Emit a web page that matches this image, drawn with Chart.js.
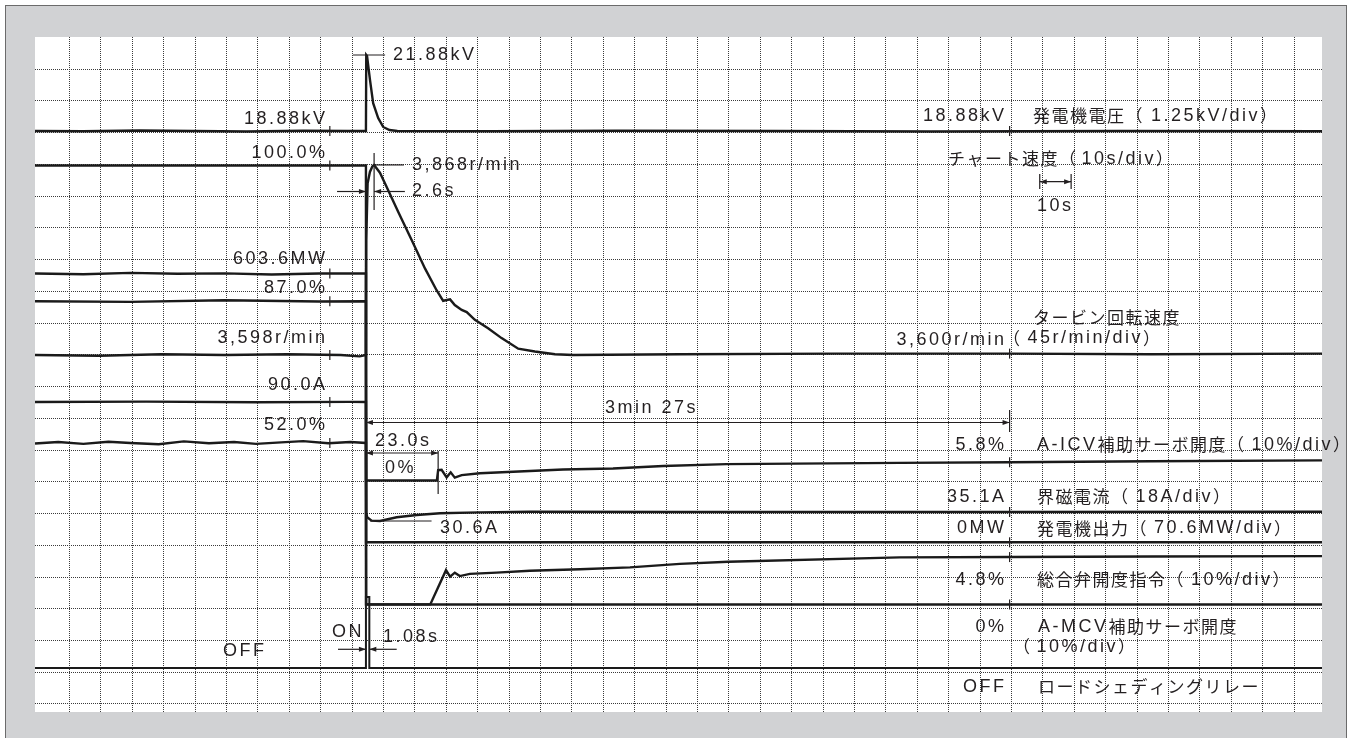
<!DOCTYPE html>
<html>
<head>
<meta charset="utf-8">
<script src="https://cdn.jsdelivr.net/npm/chart.js@4.4.1/dist/chart.umd.min.js"></script>
<style>
  html, body { margin: 0; padding: 0; background: #fff; }
</style>
</head>
<body>
<canvas id="myChart" width="1351" height="738"></canvas>
<script>
// time axis: seconds from the trip, 10 s per division
const tMin = -105.4;
const tMax = 304.5;
const tFirstGrid = -94.4;
// vertical grid divisions (0 = lowest grid line)
const gridMin = -0.252;
const gridMax = 21.008;

// 発電機電圧 (kV)
const voltTime = [-105.4, -90, -72, -55, -38, -20, -6, 0, 0.1, 0.35, 1.3, 2.3, 3.9, 5.5, 7.5, 10, 40, 80, 130, 180, 240, 304.5];
const voltKV = [18.88, 18.87, 18.9, 18.88, 18.86, 18.89, 18.88, 18.88, 21.88, 21.84, 20.89, 19.98, 19.39, 19.04, 18.92, 18.88, 18.87, 18.89, 18.88, 18.86, 18.88, 18.87];

// タービン回転速度 (r/min)
const speedTime = [-105.4, -85, -65, -45, -25, -8, -2, 0, 0.1, 0.54, 1.27, 2.07, 2.6, 4.46, 6.05, 10.3, 14.6, 18.8, 22.5, 24.6, 26.8, 28.3, 30.5, 32.1, 34.7, 38.9, 43.2, 48.5, 53.8, 60.2, 66, 100, 150, 205, 250, 304.5];
const speedRpm = [3598, 3597, 3599, 3598, 3599, 3598, 3596, 3598, 3761, 3842, 3858, 3866, 3868, 3857, 3842, 3801, 3761, 3721, 3690, 3675, 3677, 3669, 3662, 3659, 3648, 3636, 3622, 3607, 3603, 3599, 3598, 3599, 3600, 3600, 3599, 3600];

// A-ICV補助サーボ開度 (%)
const icvTime = [-105.4, -60, -20, 0, 0.05, 22.6, 23.0, 24.1, 25.7, 27.0, 28.3, 30.5, 36.3, 46.9, 62.8, 78.7, 94.7, 114.9, 170, 205, 250, 304.5];
const icvPct = [100, 100, 100, 100, 0, 0, 3.3, 3.4, 1.0, 2.6, 0.9, 1.7, 2.3, 2.8, 3.5, 3.8, 4.6, 5.2, 5.6, 5.8, 6.1, 6.4];

// 界磁電流 (A)
const fieldTime = [-105.4, -70, -35, -5, 0, 0.1, 0.4, 1.8, 4.5, 9.8, 16.2, 23.6, 36.3, 52.2, 100, 205, 304.5];
const fieldAmp = [90.0, 90.2, 89.9, 90.1, 90.0, 34.6, 32.5, 30.8, 30.6, 32.5, 33.6, 34.5, 34.9, 35.2, 35.1, 35.1, 35.2];

// 発電機出力 (MW)
const mwTime = [-105.4, -90, -75, -60, -45, -30, -15, 0, 0.05, 304.5];
const mwOut = [603.6, 602.0, 605.0, 603.0, 604.0, 601.5, 603.6, 603.6, 0, 0];

// 総合弁開度指令 (%)
const gvTime = [-105.4, -75, -45, -15, 0, 0.05, 20.5, 25.5, 26.8, 28.3, 29.9, 33.1, 41.6, 52.2, 68.2, 84.1, 100, 115.4, 170, 205, 250, 304.5];
const gvPct = [87.0, 86.8, 87.3, 86.9, 87.0, -10.4, -10.4, 0.6, -1.5, -0.2, -1.3, -0.6, -0.2, 0.4, 0.9, 1.5, 2.6, 3.3, 4.7, 4.8, 5.0, 5.1];

// A-MCV補助サーボ開度 (%)
const mcvTime = [-105.4, -98, -90, -82, -75, -66, -58, -50, -42, -35, -27, -20, -12, -5, 0, 0.05, 304.5];
const mcvPct = [51.8, 52.3, 51.7, 52.4, 52.0, 51.6, 52.5, 51.9, 52.3, 51.7, 52.2, 52.6, 51.9, 52.3, 52.0, 0, 0];

// ロードシェディングリレー (0 = OFF, 1 = ON)
const relayTime = [-105.4, 0, 1.08, 304.5];
const relayOn = [0, 1, 0, 0];

// marker times
const tLeftRef = -11.5;
const tRightRef = 205;

const channels = [
  { id: "volt", time: voltTime, values: voltKV, ref: 18.88, refDiv: 18.047, perDiv: 1.253, left: 18.88, right: 18.88 },
  { id: "speed", time: speedTime, values: speedRpm, ref: 3598, refDiv: 10.992, perDiv: 45.1, left: 3598, right: 3600 },
  { id: "icv", time: icvTime, values: icvPct, ref: 0, refDiv: 7.039, perDiv: 10.08, left: 100, right: 5.8 },
  { id: "field", time: fieldTime, values: fieldAmp, ref: 35.1, refDiv: 6.047, perDiv: 15.85, left: 90.0, right: 35.1 },
  { id: "mw", time: mwTime, values: mwOut, ref: 0, refDiv: 5.093, perDiv: 71.3, left: 603.6, right: 0 },
  { id: "gv", time: gvTime, values: gvPct, ref: 0, refDiv: 4.157, perDiv: 10.2, left: 87.0, right: 4.8 },
  { id: "mcv", time: mcvTime, values: mcvPct, ref: 0, refDiv: 3.134, perDiv: 10.22, left: 52.0, right: 0 },
  { id: "relay", time: relayTime, values: relayOn, ref: 0, refDiv: 1.134, perDiv: 0.447 },
];

const ink = "#231f20";
const gridColor = "#3a3a3a";

const ticksEvery = (first, step, count) =>
  Array.from({ length: count }, (_, k) => ({ value: first + step * k }));

const scales = {
  x: {
    type: "linear",
    min: tMin,
    max: tMax,
    afterBuildTicks: (s) => { s.ticks = ticksEvery(tFirstGrid, 10, 40); },
    ticks: { display: false },
    grid: { color: gridColor, lineWidth: 1, drawTicks: false },
    border: { display: false, dash: [1, 1] },
  },
  y: {
    type: "linear",
    min: gridMin,
    max: gridMax,
    afterBuildTicks: (s) => { s.ticks = ticksEvery(0, 1, 21); },
    ticks: { display: false },
    grid: { color: gridColor, lineWidth: 1, drawTicks: false },
    border: { display: false, dash: [1, 1] },
  },
};

channels.forEach((c) => {
  scales[c.id] = {
    type: "linear",
    axis: "y",
    display: false,
    min: c.ref + (gridMin - c.refDiv) * c.perDiv,
    max: c.ref + (gridMax - c.refDiv) * c.perDiv,
  };
});

const datasets = channels.map((c) => ({
  label: c.id,
  data: c.time.map((t, i) => ({ x: t, y: c.values[i] })),
  yAxisID: c.id,
  borderColor: "#1a1a1a",
  borderWidth: c.id === "relay" ? 2 : 2.4,
  pointRadius: 0,
  tension: 0,
  stepped: c.id === "relay",
  fill: false,
}));

// text labels: [text, x, y, align, extra gap after "（"]
const notes = [
  ["18.88kV", 327.5, 119, "right"],
  ["100.0%", 327.5, 153, "right"],
  ["603.6MW", 327.5, 259.5, "right"],
  ["87.0%", 327.5, 288, "right"],
  ["3,598r/min", 327.5, 338.5, "right"],
  ["90.0A", 327.5, 385, "right"],
  ["52.0%", 327.5, 425, "right"],
  ["OFF", 223, 651, "left"],
  ["21.88kV", 393, 55, "left"],
  ["3,868r/min", 412, 165, "left"],
  ["2.6s", 412, 191.5, "left"],
  ["3min 27s", 605, 408, "left"],
  ["23.0s", 375, 441, "left"],
  ["0%", 385, 468, "left"],
  ["30.6A", 440, 528, "left"],
  ["ON", 332, 632, "left"],
  ["1.08s", 383, 637.5, "left"],
  ["18.88kV", 1006.5, 116, "right"],
  ["3,600r/min", 1006.5, 340, "right"],
  ["5.8%", 1006.5, 445, "right"],
  ["35.1A", 1006.5, 497, "right"],
  ["0MW", 1006.5, 528.5, "right"],
  ["4.8%", 1006.5, 580, "right"],
  ["0%", 1006.5, 627, "right"],
  ["OFF", 1006.5, 687, "right"],
  ["発電機電圧（1.25kV/div）", 1033, 116, "left", 7],
  ["チャート速度（10s/div）", 948, 159, "left", 4],
  ["10s", 1037, 206, "left"],
  ["タービン回転速度", 1033, 318, "left"],
  ["（45r/min/div）", 1003, 338.5, "left", 6],
  ["A-ICV補助サーボ開度（10%/div）", 1037, 445, "left", 6],
  ["界磁電流（18A/div）", 1037, 497, "left", 6],
  ["発電機出力（70.6MW/div）", 1037, 528.5, "left", 6],
  ["総合弁開度指令（10%/div）", 1037, 580, "left", 6],
  ["A-MCV補助サーボ開度", 1038, 627, "left"],
  ["（10%/div）", 1013, 647, "left", 5],
  ["ロードシェディングリレー", 1038, 687, "left"],
];

const isWide = (ch) => /[\u3000-\u9fff\uff00-\uffef]/.test(ch);

const drawText = (ctx, text, x, y, align, parenGap = 0) => {
  const runs = [];
  for (const ch of text) {
    const wide = isWide(ch);
    if (runs.length && runs[runs.length - 1].wide === wide) runs[runs.length - 1].s += ch;
    else runs.push({ wide, s: ch });
  }
  const setFont = (r) => {
    ctx.font = r.wide ? '17px "Noto Sans CJK JP", sans-serif' : '18px "Liberation Sans", Arial, sans-serif';
    ctx.letterSpacing = r.wide ? "1.5px" : "2.5px";
  };
  const widths = runs.map((r) => {
    setFont(r);
    const extra = r.s.endsWith("（") ? parenGap : 0;
    return ctx.measureText(r.s).width + extra;
  });
  const total = widths.reduce((a, b) => a + b, 0);
  let cx = align === "right" ? x - total : x;
  runs.forEach((r, i) => {
    setFont(r);
    ctx.fillText(r.s, cx, y);
    cx += widths[i];
  });
};

const frame = {
  id: "frame",
  beforeDraw(chart) {
    const ctx = chart.ctx;
    const a = chart.chartArea;
    ctx.save();
    ctx.fillStyle = "#fff";
    ctx.fillRect(0, 0, chart.width, chart.height);
    ctx.fillStyle = "#d1d2d4";
    ctx.fillRect(6, 6, 1340, 740);
    ctx.strokeStyle = "#6b6b6b";
    ctx.lineWidth = 1;
    ctx.strokeRect(5.5, 5.5, 1341, 740);
    ctx.fillStyle = "#fff";
    ctx.fillRect(a.left, a.top, a.right - a.left, a.bottom - a.top);
    ctx.restore();
  },
};

const marks = {
  id: "marks",
  afterDatasetsDraw(chart) {
    const ctx = chart.ctx;
    const X = (t) => chart.scales.x.getPixelForValue(t);
    const Y = (id, v) => chart.scales[id].getPixelForValue(v);
    const line = (x1, y1, x2, y2) => {
      ctx.beginPath();
      ctx.moveTo(x1, y1);
      ctx.lineTo(x2, y2);
      ctx.stroke();
    };
    const head = (x, y, dir) => {
      ctx.beginPath();
      ctx.moveTo(x, y);
      ctx.lineTo(x - dir * 7, y - 2.5);
      ctx.lineTo(x - dir * 7, y + 2.5);
      ctx.closePath();
      ctx.fill();
    };
    const arrow = (x1, x2, y) => {
      line(x1, y, x2, y);
      head(x2, y, x2 > x1 ? 1 : -1);
    };
    const span = (x1, x2, y) => {
      line(x1, y, x2, y);
      head(x1, y, -1);
      head(x2, y, 1);
    };

    ctx.save();
    ctx.strokeStyle = ink;
    ctx.fillStyle = ink;
    ctx.lineWidth = 1.2;

    // reference ticks on each trace
    channels.forEach((c) => {
      if (c.left !== undefined) {
        const y = Y(c.id, c.left);
        line(X(tLeftRef), y - 5, X(tLeftRef), y + 5);
      }
      if (c.right !== undefined) {
        const y = Y(c.id, c.right);
        line(X(tRightRef), y - 5, X(tRightRef), y + 5);
      }
    });

    // 21.88kV peak
    line(X(-4.1), Y("volt", 21.88), X(6.1), Y("volt", 21.88));
    // 3,868r/min peak and 2.6s
    line(X(2.6), Y("speed", 3868), X(12.1), Y("speed", 3868));
    line(X(2.6), 153, X(2.6), 210);
    arrow(X(-9.2), X(0), 191.5);
    arrow(X(12.4), X(2.6), 191.5);
    // 3min 27s
    span(X(0), X(tRightRef), 422.5);
    line(X(tRightRef), 410, X(tRightRef), 432);
    // 23.0s
    span(X(0), X(23), 453);
    line(X(23), 451, X(23), 494);
    // 30.6A
    line(X(1.3), Y("field", 30.6), X(20.9), Y("field", 30.6));
    // 1.08s
    arrow(X(-8.9), X(0), 649.3);
    arrow(X(9.8), X(1.08), 649.3);
    // 10s chart speed bracket
    span(X(214.6), X(224.6), 181.7);
    line(X(214.6), 174, X(214.6), 189);
    line(X(224.6), 174, X(224.6), 189);

    ctx.textBaseline = "middle";
    ctx.textAlign = "left";
    notes.forEach(([text, x, y, align, gap]) => drawText(ctx, text, x, y, align, gap));
    ctx.restore();
  },
};

new Chart(document.getElementById("myChart").getContext("2d"), {
  type: "line",
  data: { datasets },
  options: {
    responsive: false,
    animation: false,
    devicePixelRatio: 1,
    layout: { padding: { left: 35, top: 37, right: 29, bottom: 26 } },
    plugins: { legend: { display: false }, tooltip: { enabled: false } },
    scales,
  },
  plugins: [frame, marks],
});
</script>
</body>
</html>
